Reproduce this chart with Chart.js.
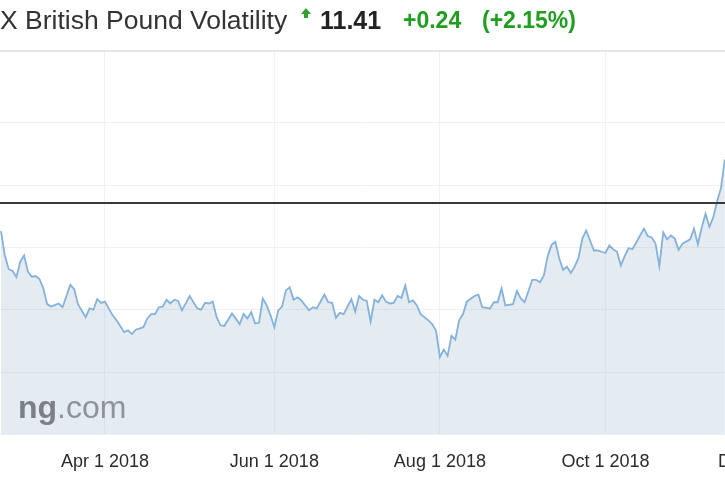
<!DOCTYPE html>
<html>
<head>
<meta charset="utf-8">
<script src="https://cdn.jsdelivr.net/npm/chart.js@4/dist/chart.umd.min.js"></script>
<style>
  body { margin: 0; background: #fff; width: 725px; height: 500px; overflow: hidden; position: relative;
         font-family: "Liberation Sans", Arial, sans-serif; }
  #chart { position: absolute; left: 0; top: 0; }
  .hd { position: absolute; top: 3px; white-space: nowrap; line-height: 34px; }
  #name { left: 0; font-size: 26.5px; color: #333; }
  /* little up arrow icon */
  #arrow { position: absolute; left: 301px; top: 8px; width: 10px; height: 11px; }
  #arrow:before { content: ""; position: absolute; left: 0; top: 0; border-left: 5px solid transparent;
                  border-right: 5px solid transparent; border-bottom: 6px solid #2ea32e; }
  #arrow:after { content: ""; position: absolute; left: 3px; top: 5px; width: 4px; height: 5px; background: #2ea32e; }
  #last { left: 320px; font-size: 25px; font-weight: bold; color: #222; }
  #chg { left: 403px; font-size: 23px; font-weight: bold; color: #1f9e1f; }
  #pct { left: 482px; font-size: 23px; font-weight: bold; color: #1f9e1f; }
  #mark { position: absolute; left: 18px; top: 387px; font-size: 32px; line-height: 40px; white-space: nowrap; }
  #mark b { color: #7c8086; }
  #mark span { color: #8f9398; }
</style>
</head>
<body>
<canvas id="chart" width="725" height="500"></canvas>
<div class="hd" id="name">X British Pound Volatility</div>
<div id="arrow"></div>
<div class="hd" id="last">11.41</div>
<div class="hd" id="chg">+0.24</div>
<div class="hd" id="pct">(+2.15%)</div>
<div id="mark"><b>ng</b><span>.com</span></div>
<script>
// trading-day position of each point (0 = left edge of the picture)
const dayIdx = [0,1,2,3,4,5,6,7,8,9,10,11,12,13,15,16,18,19,20,22,23,24,25,26,27,29,30,32,33,34,35,37,38,39,40,
  41,42,43,44,45,46,47,49,51,52,53,54,55,56,57,58,60,62,63,64,65,66,67,68,69,70,71,72,73,74,75,76,77,78,80,
  81,82,84,85,86,87,88,89,91,92,93,94,95,96,97,98,99,100,101,102,103,104,105,106,107,108,109,111,112,113,114,
  115,116,117,118,119,120,121,123,124,125,127,128,129,130,131,133,134,135,136,138,139,140,141,142,143,144,145,
  146,147,148,149,150,151,152,153,154,155,156,157,158,159,160,161,162,163,164,166,167,168,169,170,171,172,173,
  174,175,176,177,179,180,181,182,183,184,185,186,187,188];
// volatility index value at each point
const vol = [10.26,9.87,9.65,9.62,9.52,9.77,9.87,9.61,9.53,9.54,9.49,9.34,9.09,9.05,9.10,9.04,9.40,9.33,9.09,8.88,
  9.02,9.00,9.17,9.11,9.13,8.91,8.83,8.64,8.67,8.61,8.68,8.72,8.86,8.93,8.93,
  9.04,9.05,9.16,9.10,9.16,9.14,8.99,9.22,9.02,9.00,9.11,9.10,9.13,8.88,8.75,8.74,8.94,8.77,8.93,8.86,8.96,8.78,
  8.79,9.18,9.07,8.91,8.72,8.99,9.05,9.31,9.36,9.16,9.20,9.15,8.99,
  9.04,9.02,9.24,9.12,9.11,8.87,8.95,8.93,9.17,8.97,9.22,9.16,9.14,8.81,9.16,9.12,9.23,9.13,9.10,9.11,9.22,9.19,
  9.39,9.12,9.15,9.07,8.93,8.83,8.77,8.66,8.24,
  8.36,8.26,8.58,8.52,8.83,8.93,9.13,9.22,9.24,9.04,9.02,9.12,9.12,9.34,9.07,9.09,9.30,9.18,9.12,9.48,9.48,9.44,
  9.55,9.86,10.04,10.09,9.82,
  9.64,9.69,9.59,9.69,9.83,10.14,10.27,10.11,9.95,9.95,9.93,9.91,10.03,9.97,9.93,9.71,9.86,9.99,9.97,10.19,10.30,
  10.18,10.16,10.06,9.70,10.24,10.13,
  10.19,10.14,9.96,10.06,10.13,10.30,10.05,10.32,10.54,10.33,10.48,10.74,10.95,11.41];
const refLevel = 10.71;
const tickIdx = [27, 71, 114, 157];
const tickLabels = ['Apr 1 2018', 'Jun 1 2018', 'Aug 1 2018', 'Oct 1 2018'];
// next month label sits past the right edge, only its first letter shows
const edgeTickIdx = 202;
const edgeTickLabel = 'Dec 1 2018';
const xMin = -0.26, xMax = 188.05;
const yMin = 7, yMax = 13.15;

const points = dayIdx.map((d, i) => ({ x: d, y: vol[i] }));

// draws the clipped label at the right edge, kept inside the canvas edge like the original chart does
const edgeLabel = {
  id: 'edgeLabel',
  afterDraw(chart) {
    const xs = chart.scales.x, ctx = chart.ctx;
    ctx.save();
    ctx.font = '18px "Liberation Sans"';
    ctx.fillStyle = '#2b2b2b';
    ctx.textBaseline = 'middle';
    const w = ctx.measureText(edgeTickLabel).width;
    const left = Math.min(xs.getPixelForValue(edgeTickIdx) - w / 2, chart.width - 7);
    ctx.fillText(edgeTickLabel, left, xs.top + 17 + 10.8);
    ctx.restore();
  }
};

new Chart(document.getElementById('chart').getContext('2d'), {
  type: 'line',
  data: {
    datasets: [{
      data: [{ x: xMin, y: refLevel }, { x: xMax, y: refLevel }],
      borderColor: '#3a3a3a',
      borderWidth: 2,
      pointRadius: 0,
      fill: false
    }, {
      data: points,
      borderColor: '#84b2dc',
      borderWidth: 1.8,
      backgroundColor: 'rgba(120,160,190,0.2)',
      pointRadius: 0,
      tension: 0,
      fill: 'start'
    }]
  },
  options: {
    responsive: false,
    animation: false,
    layout: { padding: { top: 51, left: 0, right: 0, bottom: 10 } },
    plugins: { legend: { display: false }, tooltip: { enabled: false } },
    scales: {
      x: {
        type: 'linear',
        min: xMin,
        max: xMax,
        afterBuildTicks: s => { s.ticks = tickIdx.map(v => ({ value: v })); },
        ticks: {
          callback: v => tickLabels[tickIdx.indexOf(v)],
          font: { family: 'Liberation Sans', size: 18 },
          color: '#2b2b2b',
          padding: 17,
          maxRotation: 0,
          autoSkip: false
        },
        grid: { color: '#f1f1f4', drawTicks: false },
        border: { display: false }
      },
      y: {
        min: yMin,
        max: yMax,
        ticks: { display: false, stepSize: 1 },
        grid: {
          drawTicks: false,
          color: c => c.tick && c.tick.value > 13.1 ? '#e6e6ee' : '#f0f0f3',
          lineWidth: c => c.tick && c.tick.value > 13.1 ? 2 : 1
        },
        border: { display: false }
      }
    }
  },
  plugins: [edgeLabel]
});
</script>
</body>
</html>
